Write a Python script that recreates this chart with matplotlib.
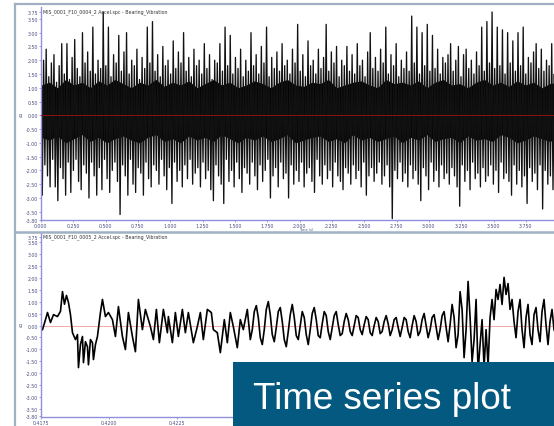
import numpy as np
import matplotlib
matplotlib.use("Agg")
import matplotlib.pyplot as plt
from matplotlib.lines import Line2D
from matplotlib.patches import Rectangle

# ---------------- data ----------------
top_title = "MIS_0001_F10_0004_2 Accel.spc - Bearing_Vibration"
bot_title = "MIS_0001_F10_0005_2 Accel.spc - Bearing_Vibration"
box_label = "Time series plot"
unit_label = "g"
x_name = "Time (s)"

# top panel: successive positive peaks / negative troughs of the vibration record (g)
top_peaks = [
    1.6, 2.0, 2.4, 1.4, 1.9, 2.2, 1.2, 1.8, 2.6, 1.5, 2.6, 1.3, 2.1, 2.75, 1.7, 1.4, 3.0, 1.9, 2.3, 1.6,
    3.2, 1.5, 2.0, 1.7, 3.75, 1.8, 3.2, 1.4, 2.2, 1.9, 2.9, 1.6, 2.3, 3.0, 1.5, 2.0, 1.8, 2.4, 1.3, 2.1,
    1.7, 3.2, 1.9, 3.4, 1.6, 2.2, 1.4, 2.5, 1.8, 2.0, 1.5, 2.7, 1.7, 2.3, 1.9, 3.0, 1.6, 2.1, 1.4, 2.4,
    1.8, 2.0, 1.5, 2.6, 1.7, 2.2, 1.3, 2.0, 1.9, 2.6, 1.6, 3.2, 1.8, 2.9, 1.5, 2.1, 1.7, 2.4, 1.4, 2.0,
    1.6, 3.0, 1.8, 2.2, 1.5, 2.5, 1.9, 3.2, 1.4, 2.1, 1.7, 2.3, 1.6, 2.6, 1.8, 2.0, 1.5, 2.4, 1.9, 3.3,
    1.6, 2.2, 1.4, 2.7, 1.8, 2.0, 1.5, 2.4, 1.7, 2.1, 3.3, 1.6, 2.3, 1.9, 2.5, 1.4, 2.0, 1.8, 2.5, 1.6,
    2.2, 1.5, 2.6, 1.8, 2.0, 1.4, 2.3, 3.0, 1.7, 2.1, 1.6, 2.4, 1.9, 3.2, 1.5, 2.2, 1.8, 2.6, 1.4, 2.0,
    1.7, 2.3, 1.6, 3.6, 1.9, 3.2, 1.5, 3.0, 1.8, 3.3, 1.6, 2.9, 1.7, 2.4, 1.5, 2.1, 1.9, 2.2, 2.6, 1.6,
    2.0, 2.5, 1.4, 2.2, 2.4, 1.7, 2.0, 1.5, 2.3, 1.8, 3.2, 1.6, 3.4, 1.9, 3.75, 1.7, 3.2, 1.8, 3.1, 1.5,
    3.0, 1.9, 2.7, 1.6, 3.0, 1.8, 3.2, 1.5, 2.1, 1.9, 2.3, 2.6, 1.7, 2.4, 1.6, 2.0, 1.8, 2.6, 1.5, 2.4,
]
top_troughs = [
    -2.9, -1.8, -2.2, -2.6, -1.6, -2.6, -3.1, -1.9, -2.3, -2.9, -1.7, -2.8, -2.0, -1.6, -2.4, -2.7, -1.8, -2.1, -3.0, -1.7,
    -2.2, -2.9, -1.9, -2.7, -1.6, -2.3, -2.8, -2.0, -1.7, -2.4, -3.6, -1.8, -2.2, -2.9, -1.6, -2.5, -2.8, -1.9, -2.1, -2.9,
    -1.7, -2.3, -2.6, -1.8, -2.0, -2.5, -1.6, -2.2, -2.7, -1.9, -3.2, -1.7, -2.4, -2.0, -2.6, -1.8, -2.3, -1.6, -2.5, -2.1,
    -1.9, -2.6, -1.7, -2.3, -2.0, -2.7, -3.1, -1.8, -2.2, -2.5, -3.2, -1.6, -2.4, -2.0, -2.6, -1.7, -2.3, -2.8, -1.9, -2.1,
    -2.5, -1.7, -2.2, -2.7, -1.8, -2.4, -2.0, -1.6, -3.0, -2.2, -1.9, -2.6, -1.7, -2.3, -2.1, -3.0, -1.8, -2.5, -2.0, -2.4,
    -1.7, -2.6, -2.1, -1.9, -2.4, -2.8, -1.6, -2.2, -2.5, -1.8, -2.3, -2.0, -2.6, -1.7, -2.2, -2.4, -2.7, -1.9, -2.1, -2.5,
    -1.8, -2.3, -2.0, -2.6, -1.7, -2.9, -2.2, -1.9, -2.4, -2.1, -1.7, -2.5, -2.2, -1.8, -2.6, -3.75, -2.0, -2.3, -1.7, -2.4,
    -2.1, -2.6, -1.8, -2.3, -2.0, -2.5, -3.1, -1.9, -2.2, -2.7, -1.7, -2.4, -2.0, -2.6, -1.8, -2.3, -2.1, -2.5, -1.9, -2.2,
    -2.6, -3.3, -1.8, -2.4, -2.0, -2.7, -1.7, -2.3, -2.1, -2.6, -1.9, -2.4, -2.2, -1.8, -2.5, -2.0, -2.8, -1.7, -2.3, -2.1,
    -2.4, -2.9, -1.8, -2.5, -2.0, -2.6, -2.2, -3.2, -1.9, -2.4, -2.1, -2.7, -1.8, -3.4, -2.0, -2.5, -2.2, -2.7, -1.9, -2.4,
]
# dense core of the record: upper / lower envelope (g)
core_upper = [1.1, 1.2, 1.0, 1.3, 1.1, 1.2, 1.0, 1.25, 1.1, 1.3, 1.15, 1.0, 1.2, 1.1, 1.3, 1.05,
              1.2, 1.1, 1.25, 1.0, 1.15, 1.3, 1.1, 1.2, 1.0, 1.1, 1.25, 1.15, 1.0, 1.2, 1.3, 1.1,
              1.05, 1.2, 1.15, 1.3, 1.0, 1.1, 1.2, 1.25, 1.1, 1.0, 1.3, 1.15, 1.2, 1.1, 1.25, 1.0,
              1.2, 1.3, 1.1, 1.15, 1.0, 1.2, 1.3, 1.1, 1.2, 1.05, 1.25, 1.1, 1.2, 1.0, 1.15, 1.2]
core_lower = [-0.8, -0.9, -0.75, -1.0, -0.85, -0.7, -0.95, -0.8, -1.0, -0.85, -0.75, -0.9, -1.0, -0.8, -0.7, -0.95,
              -0.85, -1.0, -0.75, -0.9, -0.8, -0.95, -0.7, -0.85, -1.0, -0.8, -0.9, -0.75, -0.95, -0.85, -0.7, -1.0,
              -0.9, -0.8, -0.75, -0.95, -0.85, -1.0, -0.7, -0.9, -0.8, -0.95, -0.85, -0.75, -1.0, -0.8, -0.9, -0.7,
              -0.95, -0.85, -0.8, -1.0, -0.75, -0.9, -0.85, -0.95, -0.7, -0.8, -1.0, -0.9, -0.75, -0.85, -0.95, -0.8]
top_duration = 4.0  # s
top_xticks = [0.0, 0.25, 0.5, 0.75, 1.0, 1.25, 1.5, 1.75, 2.0, 2.25, 2.5, 2.75, 3.0, 3.25, 3.5, 3.75]
y_ticks = [-3.8, -3.5, -3.0, -2.5, -2.0, -1.5, -1.0, -0.5, 0.0, 0.5, 1.0, 1.5, 2.0, 2.5, 3.0, 3.5, 3.75]

# bottom panel: zoomed record, sample numbers (fs = 27200 Hz from t0) and amplitude (g)
bot_t0 = 0.4175
bot_fs = 27200.0
bot_n_a = [1, 4, 6, 9, 12, 16, 19, 21, 23, 25, 27, 29, 31, 34, 36, 37, 39, 41, 42, 44,
           46, 47, 49, 51, 52, 54, 56, 59, 61, 64, 67, 71, 74, 77, 81, 84, 87, 91, 94, 97,
           101, 104, 109, 112, 115, 118, 122, 126, 127, 131, 134, 137, 141, 144, 147, 152, 156, 159, 162, 166,
           170, 172, 176, 179, 183, 186, 189, 192, 196, 199, 202, 206]
bot_v_a = [-0.17, 0.25, 0.55, 0.13, 0.46, 0.38, 0.60, 1.43, 0.90, 1.27, 0.97, 0.46, -0.30, -0.59, -0.38, -1.77, -0.80, -0.46, -1.56, -0.68,
           -0.89, -1.65, -0.59, -0.72, -1.43, -0.80, -0.46, 0.55, 1.10, 0.38, 0.55, 0.25, -0.46, 0.80, -0.46, -1.01, 0.55, -0.46, -1.10, 1.10,
           -0.17, 0.68, -0.04, -0.59, 0.68, -0.72, 0.68, -0.30, 0.38, -0.72, 0.55, -0.46, 0.68, -0.30, 0.55, -0.72, -0.04, 0.55, -0.59, 0.68,
           0.55, -0.17, -0.30, -1.14, 0.25, -0.72, 0.55, -0.04, -0.93, 0.25, -0.17, 0.68]
bot_n_b = list(range(209, 517, 2))
bot_v_b = [-0.59, -0.17, 0.59, 0.84, 0.34, -0.51, -0.80, -0.17, 0.68, 1.01,
           0.46, -0.38, -0.68, -0.08, 0.59, 0.76, 0.17, -0.59, -0.89, -0.25,
           0.46, 0.89, 0.34, -0.42, -0.59, 0.00, 0.59, 0.34, -0.38, -0.80,
           -0.17, 0.51, 0.76, 0.25, -0.42, -0.51, 0.08, 0.59, 0.42, -0.25,
           -0.59, -0.08, 0.42, 0.59, 0.04, -0.42, -0.34, 0.17, 0.51, 0.25,
           -0.25, -0.42, 0.00, 0.42, 0.34, -0.17, -0.38, 0.04, 0.38, 0.25,
           -0.30, -0.42, 0.00, 0.34, 0.17, -0.34, -0.25, 0.17, 0.42, 0.08,
           -0.42, -0.17, 0.25, 0.34, -0.08, -0.46, -0.08, 0.34, 0.25, -0.25,
           -0.51, 0.00, 0.42, 0.17, -0.42, -0.25, 0.25, 0.51, 0.00, -0.51,
           -0.17, 0.34, 0.46, -0.08, -0.59, -0.17, 0.42, 0.59, -0.08, -0.68,
           0.04, 0.89, 0.34, -0.93, -0.38, 1.43, 0.68, -1.35, -0.17, 1.86,
           0.34, -1.52, -0.59, 1.10, -1.94, -0.80, 0.25, -1.77, -0.17, -1.69,
           0.34, 1.10, 0.25, 1.52, 1.10, 1.73, 0.89, 2.03, 1.31, 1.77,
           0.68, 1.10, 0.17, -0.51, 0.59, 1.10, -0.17, -0.93, 0.34, 0.89,
           -0.38, -0.80, 0.46, 0.76, -0.17, -0.68, 0.59, 1.10, 0.04, -0.80,
           0.17, 0.68, -0.17, -0.38]
bot_xticks = [0.4175, 0.4200, 0.4225, 0.4250, 0.4275, 0.4300, 0.4325]

# ---------------- figure ----------------
W, H = 554, 427
fig = plt.figure(figsize=(W / 100, H / 100), dpi=100)
fig.patch.set_facecolor("white")

spine_c = "#8f8fdc"
label_c = "#4a5080"
frame_c = "#9fb1c2"


def px_axes(left, top, right, bottom):
    return fig.add_axes([left / W, 1 - bottom / H, (right - left) / W, (bottom - top) / H])


def style(ax, ylim):
    ax.set_ylim(*ylim)
    for s in ("top", "right"):
        ax.spines[s].set_visible(False)
    for s in ("left", "bottom"):
        ax.spines[s].set_color(spine_c)
        ax.spines[s].set_linewidth(1.0)
    ax.set_yticks(y_ticks)
    ax.set_yticklabels([f"{v:.2f}" for v in y_ticks])
    ax.tick_params(axis="both", colors=spine_c, labelcolor=label_c, labelsize=3.4,
                   length=1.5, width=0.6, pad=0.7)


# top panel
ax1 = px_axes(41, 8, 560, 221)
n_cycles = len(top_peaks)
top_sig = np.empty(2 * n_cycles)
top_sig[0::2] = top_peaks
top_sig[1::2] = top_troughs
top_t = np.linspace(0, top_duration, 2 * n_cycles)
core_t = np.linspace(0, top_duration, len(core_upper))
ax1.fill_between(core_t, core_lower, core_upper, color="black", lw=0, zorder=2)
ax1.plot(top_t, top_sig, color="#111111", lw=0.95, zorder=2)
ax1.axhline(0, color="#8b1010", lw=0.7, zorder=3)
ax1.set_xlim(0, top_duration + 0.014)
style(ax1, (-3.8, 3.93))
ax1.set_xticks(top_xticks)
ax1.set_xticklabels([f"{v:.3f}" for v in top_xticks])
ax1.text(0.004, 0.995, top_title, transform=ax1.transAxes, fontsize=3.4,
         va="top", ha="left", color="#333333", zorder=4)

# bottom panel
ax2 = px_axes(41, 233.5, 560, 418)
bot_t = bot_t0 + np.array(bot_n_a + bot_n_b) / bot_fs
bot_v = bot_v_a + bot_v_b
ax2.plot(bot_t, bot_v, color="black", lw=1.2)
ax2.axhline(0, color="#f09a9a", lw=0.6, zorder=0)
ax2.set_xlim(bot_t0 - 0.5 / bot_fs, bot_t0 + 519 / bot_fs)
style(ax2, (-3.85, 3.92))
ax2.set_xticks(bot_xticks)
ax2.set_xticklabels([f"{v:.4f}" for v in bot_xticks])
ax2.text(0.004, 0.996, bot_title, transform=ax2.transAxes, fontsize=3.4,
         va="top", ha="left", color="#333333")

# window frames
for (x0, y0, x1, y1, lw) in [(15, 5, 15, 427, 1.6), (15, 5, 554, 5, 1.6), (15, 233, 554, 233, 1.8)]:
    fig.add_artist(Line2D([x0 / W, x1 / W], [1 - y0 / H, 1 - y1 / H], transform=fig.transFigure,
                          color=frame_c, lw=lw))

# unit labels and x-axis name
fig.text(19 / W, 1 - 116 / H, unit_label, fontsize=3.6, color=label_c, va="center")
fig.text(19 / W, 1 - 326 / H, unit_label, fontsize=3.6, color=label_c, va="center")
fig.text(306 / W, 1 - 230.2 / H, x_name, fontsize=2.5, color=label_c, ha="center", va="center")

# caption box
fig.add_artist(Rectangle((233 / W, 0), (W - 233) / W, (H - 363) / H, transform=fig.transFigure,
                         facecolor="#03597f", edgecolor="none", zorder=5))
fig.text(253 / W, 1 - 409 / H, box_label, fontsize=26.5, family="Liberation Sans",
         color="white", va="baseline", ha="left", zorder=6)

fig.savefig("out.png", dpi=100, facecolor="white")
